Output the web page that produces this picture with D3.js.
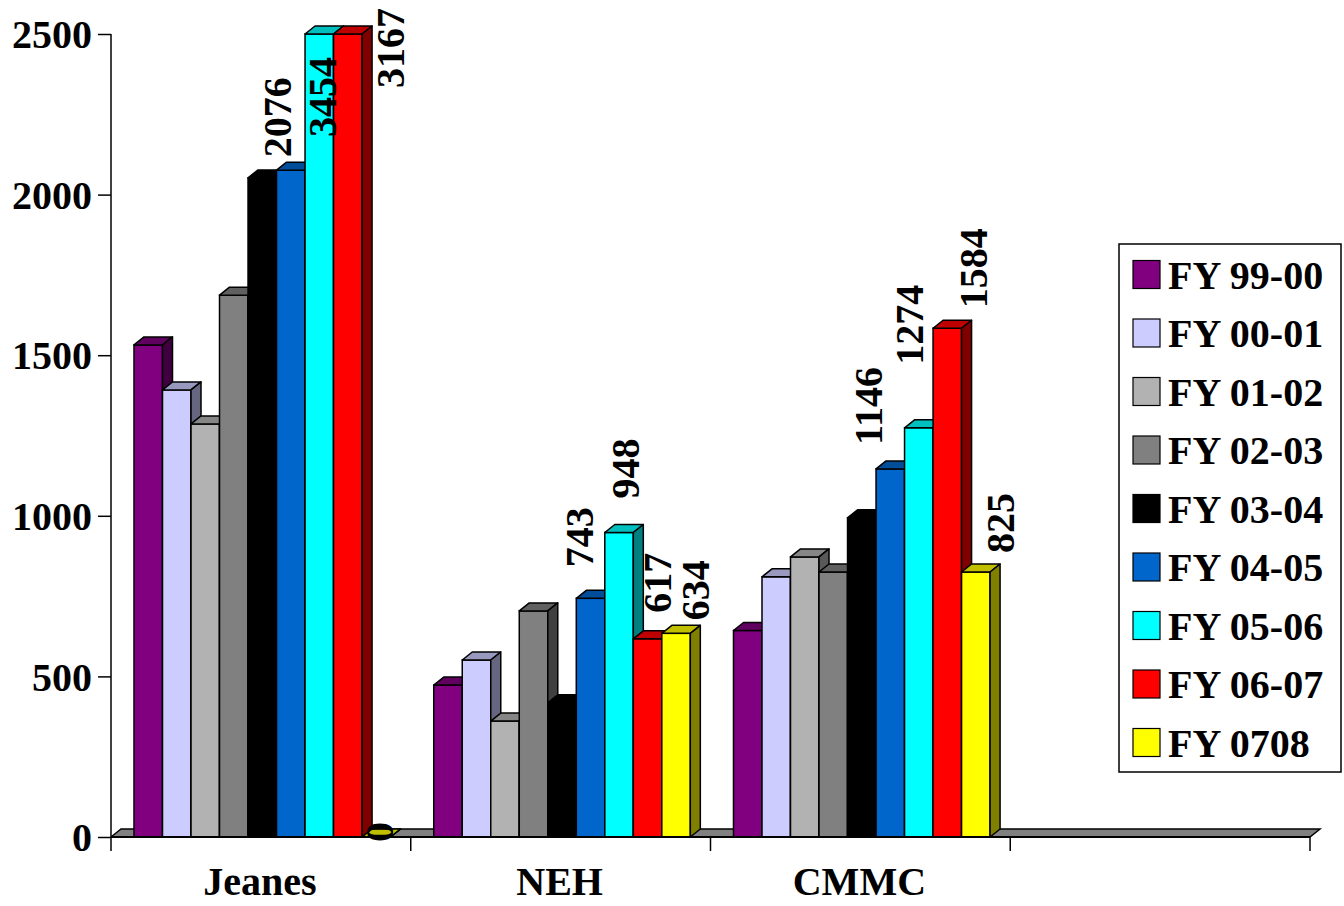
<!DOCTYPE html>
<html>
<head>
<meta charset="utf-8">
<script src="https://cdn.jsdelivr.net/npm/d3@7"></script>
<style>
  html, body { margin: 0; padding: 0; background: #fff; }
  svg { display: block; }
  text { font-family: "Liberation Serif", "Times New Roman", serif; font-weight: bold; fill: #000; }
</style>
</head>
<body>
<svg id="chart" width="1344" height="906"></svg>
<script>
// ---- data ----
const categories = ["Jeanes", "NEH", "CMMC", ""];
const seriesNames = ["FY 99-00", "FY 00-01", "FY 01-02", "FY 02-03", "FY 03-04", "FY 04-05", "FY 05-06", "FY 06-07", "FY 0708"];
const fy9900 = [1532, 473, 643];
const fy0001 = [1392, 551, 810];
const fy0102 = [1286, 361, 872];
const fy0203 = [1687, 704, 825];
const fy0304 = [2052, 418, 994];
const fy0405 = [2076, 743, 1146];
const fy0506 = [3454, 948, 1274];
const fy0607 = [3167, 617, 1584];
const fy0708 = [0, 634, 825];
const seriesValues = [fy9900, fy0001, fy0102, fy0203, fy0304, fy0405, fy0506, fy0607, fy0708];
const labeledSeries = ["FY 04-05", "FY 05-06", "FY 06-07", "FY 0708"];
const yTickValues = [0, 500, 1000, 1500, 2000, 2500];

// ---- styles ----
const seriesColors = ["#800080", "#CCCCFF", "#B2B2B2", "#808080", "#000000", "#0066CC", "#00FFFF", "#FF0000", "#FFFF00"];

// ---- layout ----
const W = 1344, H = 906;
const plot = { left: 111, right: 1310, top: 34, bottom: 837 };
const depth = { dx: 10, dy: -8 };
const fontSize = 40;

// label nudges (dx relative to bar centre, gap above bar top), per category/series
const labelNudge = {
  "Jeanes|FY 04-05": [-13, 13], "Jeanes|FY 05-06": [3, -103], "Jeanes|FY 06-07": [43, -54], "Jeanes|FY 0708": [3, -5],
  "NEH|FY 04-05": [-11, 31], "NEH|FY 05-06": [6, 34], "NEH|FY 06-07": [10, 26], "NEH|FY 0708": [19, 13],
  "CMMC|FY 04-05": [-22, 24], "CMMC|FY 05-06": [-9, 63], "CMMC|FY 06-07": [26, 20], "CMMC|FY 0708": [25, 19]
};

const svg = d3.select("#chart");

const x0 = d3.scaleBand().domain(categories).range([plot.left, plot.right]).paddingInner(0).paddingOuter(0);
const groupStart = x0.bandwidth() * 0.0767;
const groupWidth = x0.bandwidth() * 0.856;
const x1 = d3.scaleBand().domain(seriesNames).range([groupStart, groupStart + groupWidth]).padding(0);
const y = d3.scaleLinear().domain([0, 2500]).range([plot.bottom, plot.top]).clamp(true);

function shade(c, k) {
  const col = d3.rgb(c);
  return d3.rgb(col.r * k, col.g * k, col.b * k).formatHex();
}

// floor
const fl = plot.bottom;
svg.append("path")
  .attr("d", `M${plot.left},${fl} L${plot.left + depth.dx},${fl + depth.dy} L${plot.right + depth.dx},${fl + depth.dy} L${plot.right},${fl} Z`)
  .attr("fill", "#808080").attr("stroke", "#000").attr("stroke-width", 1.5);

// bars
const barsG = svg.append("g");
categories.forEach((cat, ci) => {
  seriesNames.forEach((s, si) => {
    const v = seriesValues[si][ci];
    if (v === undefined) return;
    const xa = x0(cat) + x1(s);
    const xb = xa + x1.bandwidth();
    const yt = y(v);
    const yb = y(0);
    const c = seriesColors[si];
    const g = barsG.append("g");
    g.append("rect").attr("x", xa).attr("y", yt).attr("width", xb - xa).attr("height", yb - yt)
      .attr("fill", c).attr("stroke", "#000").attr("stroke-width", 1.5);
    g.append("path")
      .attr("d", `M${xa},${yt} L${xa + depth.dx},${yt + depth.dy} L${xb + depth.dx},${yt + depth.dy} L${xb},${yt} Z`)
      .attr("fill", shade(c, 0.75)).attr("stroke", "#000").attr("stroke-width", 1.5).attr("stroke-linejoin", "round");
    g.append("path")
      .attr("d", `M${xb},${yt} L${xb + depth.dx},${yt + depth.dy} L${xb + depth.dx},${yb + depth.dy} L${xb},${yb} Z`)
      .attr("fill", shade(c, 0.5)).attr("stroke", "#000").attr("stroke-width", 1.5).attr("stroke-linejoin", "round");
  });
});

// axes
const yAxis = d3.axisLeft(y).tickValues(yTickValues).tickSize(13).tickPadding(6).tickFormat(d3.format("d"));
const yg = svg.append("g").attr("transform", `translate(${plot.left},0)`).call(yAxis);
yg.select(".domain").attr("stroke", "#000").attr("stroke-width", 1.5).attr("d", `M0,${plot.top}V${plot.bottom}`);
yg.selectAll(".tick line").attr("stroke", "#000").attr("stroke-width", 1.5);
yg.selectAll(".tick text").style("font-size", fontSize + "px").style("font-family", "'Liberation Serif', serif").style("font-weight", "bold").attr("fill", "#000").attr("dy", "0.34em");

const xg = svg.append("g");
xg.append("line").attr("x1", plot.left).attr("x2", plot.right).attr("y1", plot.bottom).attr("y2", plot.bottom)
  .attr("stroke", "#000").attr("stroke-width", 2);
const tickXs = categories.map(c => x0(c)).concat([plot.right]);
xg.selectAll("line.tk").data(tickXs).enter().append("line").attr("class", "tk")
  .attr("x1", d => d).attr("x2", d => d).attr("y1", plot.bottom).attr("y2", plot.bottom + 14)
  .attr("stroke", "#000").attr("stroke-width", 1.5);
xg.selectAll("text.cat").data(categories).enter().append("text").attr("class", "cat")
  .attr("x", d => x0(d) + x0.bandwidth() / 2 - 1).attr("y", 895)
  .attr("text-anchor", "middle").style("font-size", fontSize + "px").text(d => d);

// data labels
const labG = svg.append("g");
categories.forEach((cat, ci) => {
  seriesNames.forEach((s, si) => {
    if (!labeledSeries.includes(s)) return;
    const v = seriesValues[si][ci];
    if (v === undefined) return;
    const nudge = labelNudge[cat + "|" + s] || [0, 10];
    const cx = x0(cat) + x1(s) + x1.bandwidth() / 2 + nudge[0];
    const yb = y(v) - nudge[1];
    labG.append("text")
      .attr("transform", `translate(${cx},${yb}) rotate(-90)`)
      .attr("dy", "0.34em")
      .attr("text-anchor", "start")
      .style("font-size", fontSize + "px")
      .text(v);
  });
});

// legend
const lg = svg.append("g");
lg.append("rect").attr("x", 1119).attr("y", 244).attr("width", 222).attr("height", 528)
  .attr("fill", "#fff").attr("stroke", "#000").attr("stroke-width", 1.5);
const rowY = d3.scalePoint().domain(seriesNames).range([274.5, 742.5]);
seriesNames.forEach((s, i) => {
  const cy = rowY(s);
  lg.append("rect").attr("x", 1133).attr("y", cy - 14).attr("width", 27).attr("height", 28)
    .attr("fill", seriesColors[i]).attr("stroke", "#000").attr("stroke-width", 1.2);
  lg.append("text").attr("x", 1168).attr("y", cy + 14).style("font-size", fontSize + "px").text(s);
});
</script>
</body>
</html>
